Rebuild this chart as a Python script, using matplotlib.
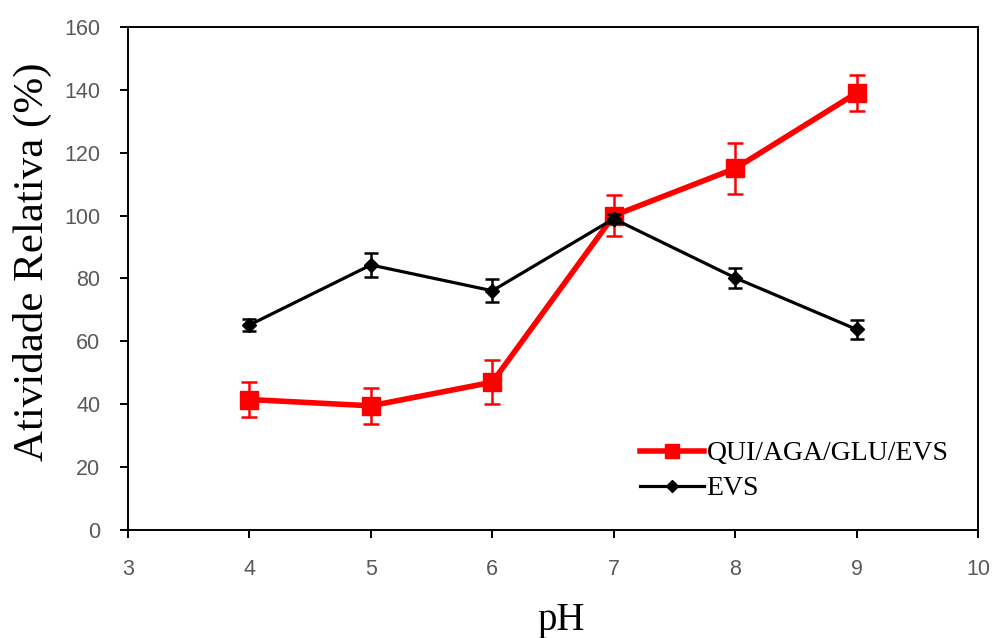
"""Relative activity vs pH for the immobilised and free enzyme."""

import matplotlib

matplotlib.use("Agg")
import matplotlib.pyplot as plt
from matplotlib.lines import Line2D

ph = [4, 5, 6, 7, 8, 9]

qui_aga = [41.5, 39.5, 47.0, 100.0, 115.0, 139.0]
qui_aga_err = [5.7, 5.8, 7.0, 6.6, 8.0, 5.6]

evs = [65.2, 84.3, 76.1, 99.0, 80.2, 63.8]
evs_err = [2.0, 3.9, 3.7, 1.5, 3.2, 3.0]

TICK_GRAY = "#595959"
SERIF = ["Liberation Serif", "DejaVu Serif"]


def main() -> None:
    fig = plt.figure(figsize=(9.96, 6.38), dpi=100)
    ax = fig.add_axes([0.1285, 0.1693, 0.8535, 0.7884])

    ax.errorbar(
        ph, qui_aga, yerr=qui_aga_err,
        color="#ff0000", linewidth=4.0, marker="s", markersize=13,
        ecolor="#ff0000", elinewidth=1.8, capsize=6, capthick=1.8,
        zorder=3,
    )
    ax.errorbar(
        ph, evs, yerr=evs_err,
        color="black", linewidth=2.3, marker="D", markersize=7,
        ecolor="black", elinewidth=1.8, capsize=5, capthick=1.8,
        zorder=4,
    )

    ax.set_xlim(3, 10)
    ax.set_ylim(0, 160)
    ax.set_xticks(range(3, 11))
    ax.set_yticks(range(0, 161, 20))

    for side in ("left", "bottom", "right", "top"):
        ax.spines[side].set_linewidth(1.4)
        ax.spines[side].set_color("black")

    ax.tick_params(
        direction="out", length=6, width=1.4, color="black",
        labelsize=15.5, labelcolor=TICK_GRAY,
    )
    ax.tick_params(axis="y", pad=14)
    ax.tick_params(axis="x", pad=15)
    for lbl in ax.get_xticklabels() + ax.get_yticklabels():
        lbl.set_family(["Liberation Sans", "DejaVu Sans"])

    # pH sits low and is partly cut off in the original, keep it close to that
    ax.set_xlabel("pH", family=SERIF, fontsize=28, labelpad=16)
    ax.set_ylabel("Atividade Relativa (%)", family=SERIF, fontsize=31, labelpad=9)
    ax.xaxis.label.set_x(0.509)
    ax.yaxis.label.set_y(0.533)

    handles = [
        Line2D([], [], color="#ff0000", linewidth=4.0, marker="s", markersize=10),
        Line2D([], [], color="black", linewidth=2.3, marker="D", markersize=6),
    ]
    ax.legend(
        handles, ["QUI/AGA/GLU/EVS", "EVS"],
        loc="center left", bbox_to_anchor=(0.602, 0.117), frameon=False,
        prop={"family": SERIF, "size": 20}, handlelength=2.3,
        handletextpad=0.1, labelspacing=0.35, borderpad=0, borderaxespad=0,
    )

    fig.savefig("out.png", dpi=100)
    plt.close(fig)


if __name__ == "__main__":
    main()
